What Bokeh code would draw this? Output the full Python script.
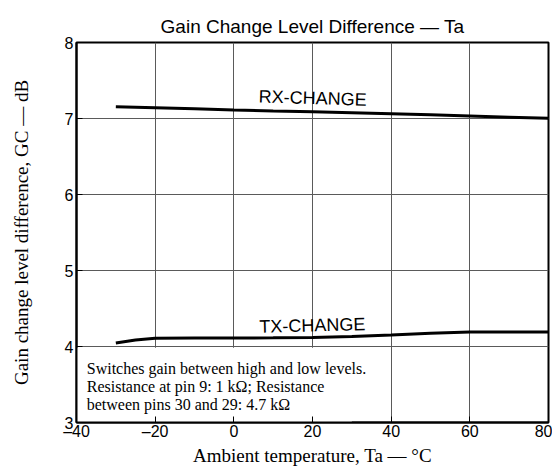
from bokeh.plotting import figure
from bokeh.models import FixedTicker, Range1d, ColumnDataSource
from bokeh.core.properties import value
from bokeh.embed import file_html
from bokeh.resources import INLINE

# ---- data ----
rx_temp = [-30, -20, -10, 0, 10, 20, 30, 40, 50, 60, 70, 80]
rx_gc = [7.155, 7.142, 7.127, 7.112, 7.099, 7.088, 7.076, 7.063, 7.048, 7.033, 7.018, 7.003]
tx_temp = [-30, -25, -20, -10, 0, 10, 20, 30, 40, 50, 60, 70, 80]
tx_gc = [4.045, 4.085, 4.11, 4.112, 4.112, 4.114, 4.12, 4.13, 4.15, 4.175, 4.19, 4.192, 4.192]
x_ticks = [-40, -20, 0, 20, 40, 60, 80]
y_ticks = [3, 4, 5, 6, 7, 8]
curve_names = ["RX-CHANGE", "TX-CHANGE"]
note_lines = [
    "Switches gain between high and low levels.",
    "Resistance at pin 9: 1 k\u03a9; Resistance",
    "between pins 30 and 29: 4.7 k\u03a9",
]

SANS = "Liberation Sans"
SERIF = "Liberation Serif"

p = figure(width=552, height=468, output_backend="svg", toolbar_location=None,
           x_range=Range1d(-40, 80), y_range=Range1d(3, 8),
           min_border_left=76, min_border_right=4, min_border_top=42, min_border_bottom=40,
           title="Gain Change Level Difference \u2014 Ta")
p.background_fill_color = "white"
p.border_fill_color = "white"
p.outline_line_color = "black"
p.outline_line_width = 2

p.title.text_font = SANS
p.title.text_font_size = "19px"
p.title.text_font_style = "normal"
p.title.align = "center"
p.title.standoff = 11
p.title.text_color = "black"

# axes
p.xaxis.ticker = FixedTicker(ticks=x_ticks)
p.yaxis.ticker = FixedTicker(ticks=y_ticks)
xa = p.xaxis[0]
ya = p.yaxis[0]
xa.major_label_overrides = {t: (("\u2013" + str(-t)) if t < 0 else str(t)) for t in x_ticks}
xa.axis_label = "Ambient temperature, Ta \u2014 \u00b0C"
ya.axis_label = "Gain change level difference, GC \u2014 dB"
for ax in (xa, ya):
    ax.axis_line_color = "black"
    ax.axis_line_width = 2
    ax.major_tick_in = 6
    ax.major_tick_out = 0
    ax.major_tick_line_color = "black"
    ax.major_tick_line_width = 1
    ax.minor_tick_line_color = None
    ax.major_label_text_font = SANS
    ax.major_label_text_font_size = "16px"
    ax.major_label_text_color = "black"
    ax.axis_label_text_font = SERIF
    ax.axis_label_text_font_size = "19px"
    ax.axis_label_text_font_style = "normal"
    ax.axis_label_text_color = "black"
xa.major_label_standoff = 0
xa.axis_label_standoff = 2
ya.major_label_standoff = 3
ya.axis_label_standoff = 30

# grid
p.grid.grid_line_color = "#5a5a5a"
p.grid.grid_line_width = 1
p.grid.grid_line_alpha = 1.0

# white note box covering the grid in the lower left
p.quad(left=[-40], right=[30], bottom=[3], top=[3.985], fill_color="white", line_color=None)

# curves
p.line(rx_temp, rx_gc, line_color="black", line_width=3)
p.line(tx_temp, tx_gc, line_color="black", line_width=3)

# curve labels
lab = ColumnDataSource(dict(x=[6.3, 6.5], y=[7.29, 4.26], t=curve_names, a=[-0.031, 0.025]))
p.text(x="x", y="y", text="t", angle="a", source=lab, text_font=value(SANS),
       text_font_size="18px", text_color="black", text_align="left",
       text_baseline="alphabetic")

# note text
note = ColumnDataSource(dict(x=[-37.4] * 3, y=[3.714, 3.473, 3.233], t=note_lines))
p.text(x="x", y="y", text="t", source=note, text_font=value(SERIF),
       text_font_size="16px", text_color="black", text_align="left",
       text_baseline="alphabetic")

open("out.html", "w").write(file_html(p, INLINE))
